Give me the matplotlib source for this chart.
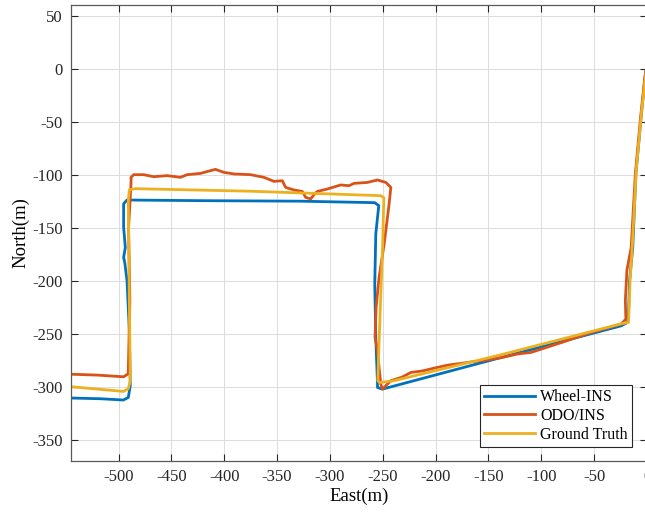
import matplotlib
matplotlib.use("Agg")
import matplotlib.pyplot as plt

plt.rcParams["font.family"] = ["Liberation Serif", "DejaVu Serif"]
plt.rcParams["axes.unicode_minus"] = False

# trajectories, East/North in metres
wheel_e = [-550, -517, -495.5, -490.8, -488.9, -489.8, -492.0, -494.1, -495.2, -493.6,
           -495.2, -495.2, -492.0, -422.5, -327.7, -257.6, -253.8, -256.6, -257.6, -256.6,
           -255.0, -255.0, -250.3, -138.1, -24.3, -18.5, -17.5, -16.5, -13.5, -10.5, -5.5, -2.0, 0.5]
wheel_n = [-310.5, -311.3, -312.5, -310.1, -299.0, -247.2, -200.0, -183.0, -178.0, -168.6,
           -149.7, -127.4, -123.9, -124.5, -125.0, -126.4, -129.2, -155.7, -202.8, -253.8,
           -297.2, -300.7, -302.2, -272.4, -242.5, -239.3, -231.1, -200.0, -168.9, -99.0, -45.0, -8.5, 8.0]

odo_e = [-550, -520, -495.2, -490.8, -490.8, -489.3, -490.5, -488.2, -488.2, -485.7,
         -476.3, -466.8, -454.1, -441.5, -435.1, -422.5, -413.0, -408.3, -400.4, -390.9,
         -375.1, -362.5, -353.0, -345.1, -341.9, -334.1, -326.1, -323.0, -318.2, -315.1,
         -311.9, -302.4, -289.8, -281.9, -277.2, -264.5, -255.0, -247.1, -242.4, -244.0,
         -248.7, -253.5, -256.3, -257.3, -255.0, -253.5, -251.9, -250.3, -242.4, -232.0,
         -223.4, -212.0, -201.3, -188.0, -176.0, -166.0, -157.1, -138.1, -122.0, -109.7,
         -80.0, -52.8, -24.3, -20.0, -20.5, -19.0, -15.0, -11.0, -6.0, -2.0, 0.5]
odo_n = [-288.0, -289.0, -290.6, -287.7, -284.9, -218.9, -149.7, -108.5, -102.5, -100.0,
         -100.0, -101.9, -100.9, -102.5, -100.0, -98.8, -96.2, -95.0, -97.8, -99.3,
         -100.0, -102.5, -106.3, -105.7, -112.0, -114.4, -115.8, -121.4, -122.9, -118.9,
         -115.8, -113.5, -109.7, -110.4, -108.2, -107.3, -105.0, -107.3, -112.0, -127.6,
         -165.4, -196.9, -225.2, -253.5, -266.0, -281.8, -297.5, -302.2, -294.3, -291.0,
         -286.5, -285.0, -282.4, -279.5, -278.0, -276.5, -275.5, -272.6, -269.0, -267.6,
         -258.0, -248.8, -240.8, -236.1, -218.9, -190.0, -168.9, -99.0, -45.0, -8.5, 8.0]

truth_e = [-550, -495.4, -490.8, -488.9, -489.8, -490.8, -489.8, -484.1, -375.1, -251.9,
           -249.0, -250.0, -253.8, -254.7, -252.8, -239.3, -138.1, -24.3, -17.5, -16.0,
           -14.0, -10.0, -5.0, -1.5, 1.0]
truth_n = [-299.5, -304.4, -301.9, -294.3, -218.9, -124.5, -114.2, -113.2, -115.6, -119.8,
           -121.7, -162.3, -266.0, -294.3, -296.0, -294.3, -269.8, -240.6, -239.3, -200.0,
           -168.9, -93.4, -39.6, -8.5, 8.0]

series = [("Wheel-INS", wheel_e, wheel_n, "#0072BD"),
          ("ODO/INS", odo_e, odo_n, "#D95319"),
          ("Ground Truth", truth_e, truth_n, "#EDB120")]

fig = plt.figure(figsize=(6.45, 5.19), dpi=100)
ax = fig.add_axes([71 / 645, 58 / 519, 576 / 645, 456 / 519])

for name, e, n, c in series:
    ax.plot(e, n, color=c, lw=2.0, label=name, solid_joinstyle="round")

ax.set_xlim(-545, 0)
ax.set_ylim(-370, 60)
ax.set_xticks(range(-500, 1, 50))
ax.set_yticks(range(-350, 51, 50))

ax.grid(True, color="#dcdcdc", lw=0.7)
ax.set_axisbelow(True)
ax.tick_params(direction="in", top=True, right=True, length=5, width=0.8,
               labelsize=12, colors="#262626", pad=6)
for s in ax.spines.values():
    s.set_color("#5a5a5a")
    s.set_linewidth(0.9)

ax.set_xlabel("East(m)", fontsize=13.5, labelpad=2)
ax.set_ylabel("North(m)", fontsize=13.5, labelpad=2)

leg = ax.legend(loc="lower right", bbox_to_anchor=(0.974, 0.031), fontsize=11.5,
                fancybox=False, framealpha=1, edgecolor="#262626", handlelength=3.2,
                borderpad=0.25, labelspacing=0.18, handletextpad=0.35, borderaxespad=0)
leg.get_frame().set_linewidth(0.8)

fig.savefig("out.png", dpi=100)
